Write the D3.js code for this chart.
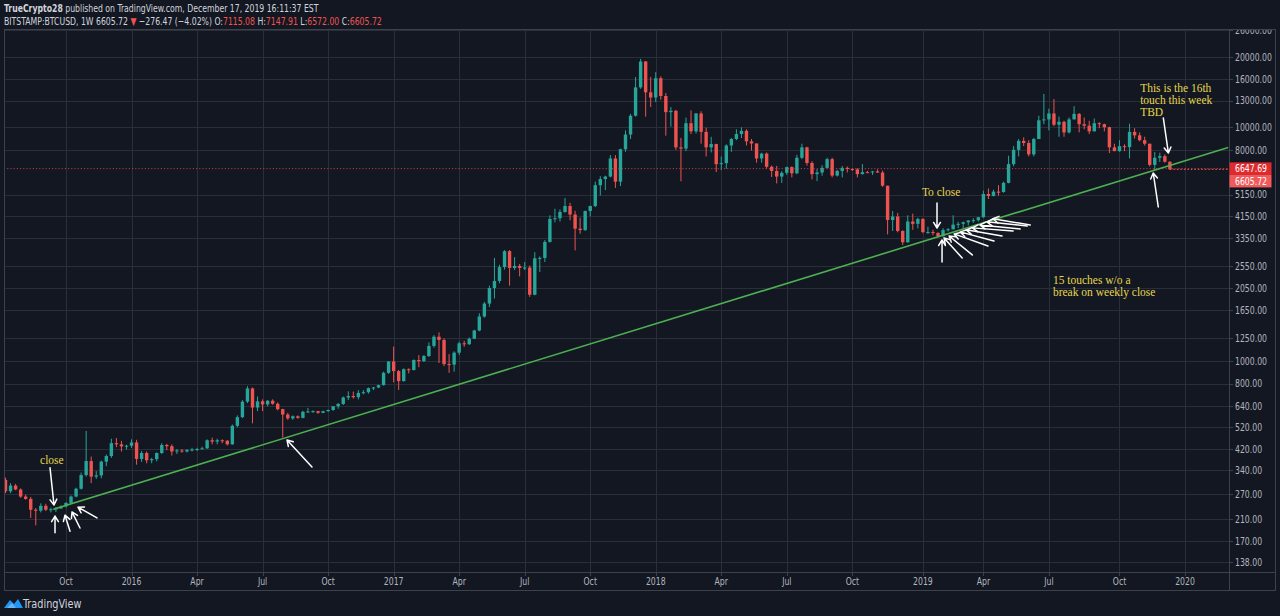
<!DOCTYPE html>
<html><head><meta charset="utf-8">
<script src="https://cdn.jsdelivr.net/npm/d3@7"></script>
<style>
html,body{margin:0;padding:0;background:#131722;overflow:hidden;}
svg{display:block;}
.ax{font-family:"Liberation Sans Narrow","DejaVu Sans Condensed","Arial Narrow","Liberation Sans",sans-serif;}
</style></head><body>
<svg id="c" width="1280" height="616"></svg>
<script>
// ---------- DATA ----------
const firstWeek = "2015-07-13"; // Monday of first weekly bar (BITSTAMP:BTCUSD, 1W)
const opens = [
310,277,293,282,263,257,231,229,240,231,
232,234,239,247,263,284,325,373,320,324,
371,392,445,440,431,434,448,381,404,376,
380,404,437,432,410,414,410,416,418,420,
423,458,452,458,456,440,528,575,670,763,
632,672,652,676,656,622,590,568,580,571,
606,608,610,600,610,617,640,655,698,708,
700,730,735,765,770,788,890,995,905,820,
922,915,1010,998,1050,1160,1270,1230,970,965,
1085,1190,1180,1245,1350,1550,1760,2050,2200,2520,
2950,2500,2550,2500,2510,1920,2750,2760,3230,4050,
4080,4340,4600,4230,3680,3630,4380,4600,5650,6000,
6150,7350,5850,8050,9300,11200,14800,19100,14100,13400,
16200,13600,11600,11750,8200,8100,10400,9600,11450,9550,
8200,8470,6950,7020,8350,8900,9350,9650,8700,8520,
7350,7710,6770,6500,6150,6380,6750,6350,7400,8200,
7030,6300,6400,6700,7300,6210,6500,6700,6630,6600,
6300,6420,6410,6470,6400,5620,4010,4150,3600,3220,
3950,3860,4050,3560,3560,3530,3420,3630,3660,3830,
3860,3920,3990,4000,4120,5180,5080,5300,5280,5780,
6950,8000,8740,8560,7650,8900,10700,10800,11450,10250,
10550,9500,10800,11400,10300,10150,9600,10400,10300,10000,
8200,7900,8300,8220,9550,9230,8800,8500,6900,7400,
7520,7115.08];
const highs = [
317,300,298,285,268,262,235,246,245,236,
237,241,249,266,287,333,502,390,338,375,
398,465,468,455,438,462,460,412,410,385,
406,445,442,440,420,420,420,425,425,430,
462,470,465,462,458,535,585,680,780,770,
705,685,680,685,665,625,600,585,585,612,
630,615,612,612,620,642,660,705,742,740,
750,750,770,775,792,900,1000,1152,915,930,
930,1015,1060,1060,1200,1290,1325,1250,1070,1100,
1210,1220,1260,1360,1600,1790,2100,2760,2580,2980,
2980,2780,2600,2650,2560,2920,2800,3290,4200,4480,
4450,4980,4750,4390,4100,4400,4620,5850,6170,6200,
7600,7600,8100,9700,11400,16400,19600,19200,16400,17200,
16500,14000,12200,11850,9000,11000,11800,11500,11700,9950,
9100,8500,7500,8450,9000,9800,9990,9800,8900,8520,
7780,7800,6860,6830,6480,6780,6800,7620,8500,8250,
7150,6620,6880,7400,7400,6580,6820,6790,6680,6680,
6950,6500,6500,6600,6520,5620,4380,4300,3620,4200,
4270,4100,4080,3750,3640,3550,3700,3700,4200,3940,
3950,4000,4080,4130,5350,5470,5400,5650,5850,7550,
8300,8900,9050,8800,9000,11200,13880,12000,13200,11100,
10650,11000,12300,11500,11000,10650,10900,10500,10350,10050,
8500,8800,8450,10350,9900,9500,9100,8500,7830,7780,
7650,7147.91];
const lows = [
272,272,280,260,255,213,198,225,228,225,
226,233,236,245,261,282,320,300,313,315,
355,385,428,410,418,425,360,370,365,365,
372,400,415,394,400,405,406,410,412,418,
420,440,440,445,435,438,520,570,660,541,
610,610,640,650,615,470,560,560,566,568,
600,600,594,598,606,612,625,648,680,690,
685,720,725,750,765,785,880,810,751,815,
885,910,940,990,1040,1140,980,950,890,900,
1060,1150,1170,1240,1340,1530,1700,1850,2150,2460,
2100,2450,2300,2450,1880,1910,2400,2650,3210,3920,
3950,4310,4000,2970,3500,3600,4160,4550,5100,5380,
6100,5500,5600,7850,8900,11100,14600,11100,12200,12800,
13100,9200,10050,8000,5870,7900,9350,9400,8500,7500,
7800,6430,6550,6640,7850,8800,8990,8350,7950,7050,
7050,6650,6120,5750,5780,6250,6100,6300,7300,6850,
5980,5880,6200,6650,6100,6150,6100,6400,6500,6100,
6280,6380,6250,6380,5560,3480,3600,3550,3130,3200,
3640,3690,3520,3500,3450,3380,3400,3580,3650,3700,
3700,3800,3900,3950,4100,4930,5060,5100,5250,5750,
6800,7500,8300,7500,7500,8900,10300,9700,10100,9100,
9100,9400,10800,9500,9800,9350,9600,9900,9600,7750,
7900,7850,7900,7350,8950,8700,8350,6790,6520,7100,
7050,6572];
const closes = [
277,293,282,263,257,231,229,240,231,232,
234,239,247,263,284,325,373,320,324,371,
392,445,440,431,434,448,381,404,376,380,
404,437,432,410,414,410,416,418,420,423,
458,452,458,456,440,528,575,670,763,632,
672,652,676,656,622,590,568,580,571,606,
608,610,600,610,617,640,655,698,708,700,
730,735,765,770,788,890,995,905,820,922,
915,1010,998,1050,1160,1270,1230,970,965,1085,
1190,1180,1245,1350,1550,1760,2050,2200,2520,2950,
2500,2550,2500,2510,1920,2750,2760,3230,4050,4080,
4340,4600,4230,3680,3630,4380,4600,5650,6000,6150,
7350,5850,8050,9300,11200,14800,19100,14100,13400,16200,
13600,11600,11750,8200,8100,10400,9600,11450,9550,8200,
8470,6950,7020,8350,8900,9350,9650,8700,8520,7350,
7710,6770,6500,6150,6380,6750,6350,7400,8200,7030,
6300,6400,6700,7300,6210,6500,6700,6630,6600,6300,
6420,6410,6470,6400,5620,4010,4150,3600,3220,3950,
3860,4050,3560,3560,3530,3420,3630,3660,3830,3860,
3920,3990,4000,4120,5180,5080,5300,5280,5780,6950,
8000,8740,8560,7650,8900,10700,10800,11450,10250,10550,
9500,10800,11400,10300,10150,9600,10400,10300,10000,8200,
7900,8300,8220,9550,9230,8800,8500,6900,7400,7520,
7115.08,6605.72];

const priceTicks = [138,170,210,270,340,420,520,640,800,1000,1250,1650,2050,2550,3350,4150,5150,8000,10000,13000,16000,20000,26000];
const timeTickDates = ["2015-10-05","2016-01-04","2016-04-04","2016-07-04","2016-10-03","2017-01-02","2017-04-03","2017-07-03","2017-10-02","2018-01-01","2018-04-02","2018-07-02","2018-10-01","2019-01-07","2019-04-01","2019-07-01","2019-10-07","2020-01-06"];
const timeTickLabels = ["Oct","2016","Apr","Jul","Oct","2017","Apr","Jul","Oct","2018","Apr","Jul","Oct","2019","Apr","Jul","Oct","2020"];
const hLinePrice = 6647.69;
const lastPrice = 6605.72;
// trendline anchors: [week index from first bar, price]
const trendline = [[9.48,232],[242.56,8190]];
// arrows: [tailWeek, tailPrice, headWeek, headPrice]
const arrows = [
 [8.83,349, 9.62,242],
 [9.82,184, 9.82,217],
 [12.8,187, 11.8,219],
 [14.78,193, 13.19,226],
 [18.15,213, 14.38,237],
 [60.8,352, 55.85,459],
 [184.8,4740, 184.8,3705],
 [185.8,2650, 185.8,3294],
 [189.8,2758, 186.2,3361],
 [191.8,2842, 187.2,3425],
 [194.9,3104, 188.2,3496],
 [196.1,3262, 189.4,3566],
 [197.7,3425, 190.6,3638],
 [199.9,3598, 191.8,3710],
 [201.3,3670, 193.3,3818],
 [202.7,3780, 194.7,3937],
 [203.3,3818, 195.9,4057],
 [229.7,10960, 230.7,7760],
 [228.7,4560, 227.7,6370]
];
const noteTexts = [["close"],["To close"],["This is the 16th","touch this week","TBD"],["15 touches w/o a","break on weekly close"]];
const noteWeeks = [9.2, 181.8, 225.1, 207.8];
const notePrices = [377, 5280, 14740, 2220];
const noteAnchors = ["middle","start","start","start"];

// ---------- LAYOUT ----------
const W=1280,H=616;
const L=4, R=1229, T=29, B=572, AXR=1275, BOT=590;
const NARROW=0.82;
const svg = d3.select("#c");
const parse = d3.timeParse("%Y-%m-%d");
const start = parse(firstWeek);
const x = d3.scaleTime().domain([parse("2015-10-05"), parse("2020-01-06")]).range([66,1185]);
const y = d3.scaleLog().domain([125.1, 26310]).range([B, T]);
const wDate = w => new Date(start.getTime() + w*7*864e5);

const C_UP="#26a69a", C_DN="#ef5350", GRID="#2a2e39", FRAME="#3d414c", TXT="#b2b5be";

svg.append("rect").attr("width",W).attr("height",H).attr("fill","#131722");
const defs = svg.append("defs");
defs.append("clipPath").attr("id","plot").append("rect").attr("x",L).attr("y",T).attr("width",R-L).attr("height",B-T);
defs.append("clipPath").attr("id","paxis").append("rect").attr("x",R).attr("y",T+1).attr("width",AXR-R).attr("height",B-T-1);

// grid
const grid = svg.append("g").attr("clip-path","url(#plot)");
grid.selectAll(".hg").data(priceTicks).join("line")
  .attr("x1",L).attr("x2",R).attr("y1",d=>Math.round(y(d))+0.5).attr("y2",d=>Math.round(y(d))+0.5)
  .attr("stroke",GRID).attr("stroke-width",1);
const tDates = timeTickDates.map(parse);
grid.selectAll(".vg").data(tDates).join("line")
  .attr("y1",T).attr("y2",B).attr("x1",d=>Math.round(x(d))+0.5).attr("x2",d=>Math.round(x(d))+0.5)
  .attr("stroke",GRID).attr("stroke-width",1);

// candles
const candles = opens.map((o,i)=>({date:d3.timeMonday.offset(start,i),o,h:highs[i],l:lows[i],c:closes[i]}));
const plot = svg.append("g").attr("clip-path","url(#plot)");
const cg = plot.selectAll(".cd").data(candles).join("g");
cg.append("line").attr("x1",d=>x(d.date)).attr("x2",d=>x(d.date))
  .attr("y1",d=>y(d.h)).attr("y2",d=>y(d.l))
  .attr("stroke",d=>d.c>=d.o?C_UP:C_DN).attr("stroke-width",1);
const bw=3.4;
cg.append("rect").attr("x",d=>x(d.date)-bw/2).attr("width",bw)
  .attr("y",d=>y(Math.max(d.o,d.c)))
  .attr("height",d=>Math.max(1,Math.abs(y(d.o)-y(d.c))))
  .attr("fill",d=>d.c>=d.o?C_UP:C_DN);

// horizontal dotted lines
plot.append("line").attr("x1",L).attr("x2",R).attr("y1",y(hLinePrice)).attr("y2",y(hLinePrice))
  .attr("stroke","#e0474a").attr("stroke-opacity",0.85).attr("stroke-width",1).attr("stroke-dasharray","1.2 2");
plot.append("line").attr("x1",x(candles[candles.length-1].date)).attr("x2",R).attr("y1",y(lastPrice)).attr("y2",y(lastPrice))
  .attr("stroke","#ef5350").attr("stroke-opacity",0.9).attr("stroke-width",1.3).attr("stroke-dasharray","1.5 2");

// trendline
plot.append("line")
  .attr("x1",x(wDate(trendline[0][0]))).attr("y1",y(trendline[0][1]))
  .attr("x2",x(wDate(trendline[1][0]))).attr("y2",y(trendline[1][1]))
  .attr("stroke","#4caf50").attr("stroke-width",1.6);

// arrows
function arrowPath(x1,y1,x2,y2){
  const a=Math.atan2(y2-y1,x2-x1), len=6.5, s=0.55;
  return `M${x1},${y1}L${x2},${y2}M${x2-len*Math.cos(a-s)},${y2-len*Math.sin(a-s)}L${x2},${y2}L${x2-len*Math.cos(a+s)},${y2-len*Math.sin(a+s)}`;
}
plot.selectAll(".ar").data(arrows).join("path")
  .attr("d",d=>arrowPath(x(wDate(d[0])),y(d[1]),x(wDate(d[2])),y(d[3])))
  .attr("fill","none").attr("stroke","#ffffff").attr("stroke-width",1.5)
  .attr("stroke-linecap","round").attr("stroke-linejoin","round");

// notes
noteTexts.forEach((lines,i)=>{
  const t = plot.append("text").attr("x",x(wDate(noteWeeks[i]))).attr("y",y(notePrices[i])+4)
    .attr("text-anchor",noteAnchors[i]).attr("fill","#e6d64a")
    .attr("font-family","'Liberation Serif','DejaVu Serif',serif").attr("font-size",11.5);
  lines.forEach((s,j)=>t.append("tspan").attr("x",x(wDate(noteWeeks[i]))).attr("dy",j?12:0).text(s));
});

// frame
const fr = svg.append("g").attr("stroke",FRAME).attr("stroke-width",1).attr("fill","none");
fr.append("rect").attr("x",L+0.5).attr("y",T+0.5).attr("width",AXR-L).attr("height",BOT-T);
fr.append("line").attr("x1",R+0.5).attr("x2",R+0.5).attr("y1",T).attr("y2",BOT);
fr.append("line").attr("x1",L).attr("x2",AXR).attr("y1",B+0.5).attr("y2",B+0.5);

// price axis
const pa = svg.append("g").attr("class","ax").attr("clip-path","url(#paxis)");
pa.selectAll(".pt").data(priceTicks).join("line").attr("x1",R).attr("x2",R+4)
  .attr("y1",d=>Math.round(y(d))+0.5).attr("y2",d=>Math.round(y(d))+0.5).attr("stroke",FRAME);
pa.selectAll(".pl").data(priceTicks).join("text")
  .attr("transform",d=>`translate(${R+6},${y(d)+3.8}) scale(${NARROW},1)`)
  .attr("fill",TXT).attr("font-size",10.5).text(d=>d.toFixed(2));
// price tags
const tagH=12.5;
const tags=[{p:hLinePrice,fill:"#e02b2e",yc:y(hLinePrice)},{p:lastPrice,fill:"#f05a5a",yc:y(hLinePrice)+tagH}];
tags.forEach(t=>{
  pa.append("rect").attr("x",R+0.5).attr("y",t.yc-tagH/2).attr("width",42).attr("height",tagH).attr("fill",t.fill);
  pa.append("text").attr("transform",`translate(${R+6},${t.yc+3.8}) scale(${NARROW},1)`)
    .attr("fill","#ffffff").attr("font-size",10.5).text(t.p.toFixed(2));
});

// time axis
const ta = svg.append("g").attr("class","ax");
ta.selectAll(".tt").data(tDates).join("line").attr("x1",d=>Math.round(x(d))+0.5).attr("x2",d=>Math.round(x(d))+0.5)
  .attr("y1",B).attr("y2",B+4).attr("stroke",FRAME);
ta.selectAll(".tl").data(tDates).join("text")
  .attr("transform",d=>`translate(${x(d)},585) scale(${NARROW},1)`)
  .attr("text-anchor","middle").attr("fill",TXT).attr("font-size",10.5)
  .text((d,i)=>timeTickLabels[i]);

// header
const hd = svg.append("g").attr("class","ax").attr("font-size",10.5).attr("fill","#d1d4dc");
const h1 = hd.append("text").attr("transform",`translate(4,12) scale(${NARROW},1)`);
h1.append("tspan").attr("font-weight","bold").text("TrueCrypto28");
h1.append("tspan").text(" published on TradingView.com, December 17, 2019 16:11:37 EST");
const h2 = hd.append("text").attr("transform",`translate(4,25) scale(${NARROW},1)`);
const red="#ef5350";
[["BITSTAMP:BTCUSD, 1W  6605.72 ",null],["▼",red],[" −276.47 (−4.02%)  O:",null],["7115.08",red],[" H:",null],["7147.91",red],[" L:",null],["6572.00",red],[" C:",null],["6605.72",red]]
 .forEach(([s,c])=>{const ts=h2.append("tspan").text(s); if(c) ts.attr("fill",c);});

// TradingView logo
const lg = svg.append("g").attr("transform","translate(4,597)");
lg.append("path").attr("d","M0,11 L6,3 L10,7 L14,2 L19,11 Z").attr("fill","#2196f3");
lg.append("path").attr("d","M3,11 L8,6 L12,11 Z").attr("fill","#64b5f6");
svg.append("text").attr("transform","translate(23,608) scale(0.9,1)").attr("fill","#d1d4dc").attr("font-size",12)
  .attr("font-family","'Liberation Sans Narrow','DejaVu Sans Condensed','Liberation Sans',sans-serif").text("TradingView");
</script>
</body></html>
